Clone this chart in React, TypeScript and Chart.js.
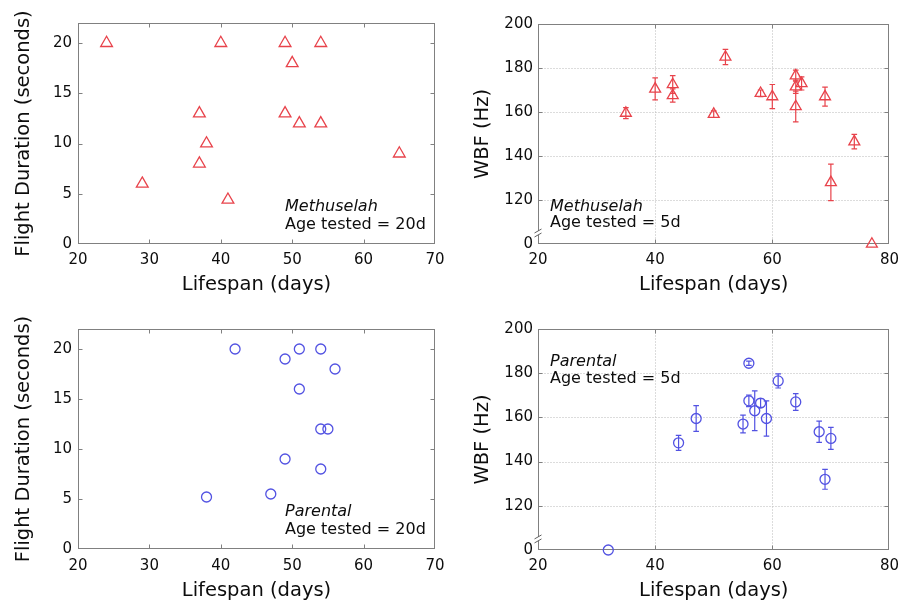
import React, { useEffect, useRef } from "react";
import { Chart, registerables } from "chart.js";

Chart.register(...registerables);

const FONT = "'DejaVu Sans', 'Liberation Sans', Arial, sans-serif";
const RED = "#e8434b";
const BLUE = "#5252e2";
const TEXT = "#0d0d0d";

// ---- Top-left: Methuselah, flight duration, age tested 20d ----
const methFlightLifespan = [24, 29, 37, 38, 37, 40, 41, 49, 50, 49, 51, 54, 54, 65];
const methFlightDuration = [20, 6, 13, 10, 8, 20, 4.4, 20, 18, 13, 12, 20, 12, 9];

// ---- Top-right: Methuselah, wing beat frequency, age tested 5d ----
const methWbfLifespan = [35, 40, 43, 43, 50, 52, 58, 60, 64, 64, 64, 65, 69, 70, 74, 77];
const methWbf = [159.5, 170.5, 172.5, 167.5, 159, 185, 168.5, 167, 176.5, 171.5, 162.5, 173, 167, 128, 146.5, 0];
const methWbfErr = [2.5, 5, 4, 3, 1.5, 3.5, 1.5, 5.5, 2.5, 3, 7, 3, 4.3, 8.3, 3.3, 0];

// ---- Bottom-left: Parental, flight duration, age tested 20d ----
const parFlightLifespan = [42, 49, 51, 54, 56, 51, 54, 55, 49, 54, 38, 47];
const parFlightDuration = [20, 19, 20, 20, 18, 16, 12, 12, 9, 8, 5.2, 5.5];

// ---- Bottom-right: Parental, wing beat frequency, age tested 5d ----
const parWbfLifespan = [32, 44, 47, 55, 56, 56, 57, 58, 59, 61, 64, 68, 70, 69];
const parWbf = [0, 148.5, 159.5, 157, 184.5, 167.5, 163, 166.5, 159.5, 176.5, 167, 153.5, 150.5, 132];
const parWbfErr = [0, 3.4, 5.8, 4, 1, 2.6, 9, 2, 8, 3.2, 3.8, 4.8, 5, 4.5];

// ---- Axis ticks ----
const xTicksFlight = [20, 30, 40, 50, 60, 70];
const yTicksFlight = [0, 5, 10, 15, 20];
const xTicksWbf = [20, 40, 60, 80];
const yTicksWbf = [0, 120, 140, 160, 180, 200];
const WBF_BREAK = 100; // axis position at which the value 0 is shown (below the axis break)

const toBroken = (v: number) => (v < WBF_BREAK ? WBF_BREAK : v);

// Frame (MATLAB-like box), inward ticks, dotted grid, axis break
const framePlugin = {
  id: "frame",
  beforeDatasetsDraw(chart: any, _args: any, opts: any) {
    const { ctx, chartArea: a, scales } = chart;
    const xs = scales.x;
    const ys = scales.y;
    const L = Math.round(a.left) + 0.5;
    const R = Math.round(a.right) - 0.5;
    const T = Math.round(a.top) + 0.5;
    const B = Math.round(a.bottom) - 0.5;
    ctx.save();
    if (opts.grid) {
      ctx.strokeStyle = "#b8b8b8";
      ctx.lineWidth = 1;
      ctx.setLineDash([1, 2]);
      xs.ticks.forEach((t: any) => {
        if (t.value > xs.min && t.value < xs.max) {
          const px = Math.round(xs.getPixelForValue(t.value)) + 0.5;
          ctx.beginPath();
          ctx.moveTo(px, T);
          ctx.lineTo(px, B);
          ctx.stroke();
        }
      });
      ys.ticks.forEach((t: any) => {
        if (t.value > ys.min && t.value < ys.max) {
          const py = Math.round(ys.getPixelForValue(t.value)) + 0.5;
          ctx.beginPath();
          ctx.moveTo(L, py);
          ctx.lineTo(R, py);
          ctx.stroke();
        }
      });
      ctx.setLineDash([]);
    }
    ctx.strokeStyle = "#808080";
    ctx.lineWidth = 1;
    const tl = 4;
    xs.ticks.forEach((t: any) => {
      if (t.value > xs.min && t.value < xs.max) {
        const px = Math.round(xs.getPixelForValue(t.value)) + 0.5;
        ctx.beginPath();
        ctx.moveTo(px, B);
        ctx.lineTo(px, B - tl);
        ctx.moveTo(px, T);
        ctx.lineTo(px, T + tl);
        ctx.stroke();
      }
    });
    ys.ticks.forEach((t: any) => {
      if (t.value > ys.min && t.value < ys.max) {
        const py = Math.round(ys.getPixelForValue(t.value)) + 0.5;
        ctx.beginPath();
        ctx.moveTo(L, py);
        ctx.lineTo(L + tl, py);
        ctx.moveTo(R, py);
        ctx.lineTo(R - tl, py);
        ctx.stroke();
      }
    });
    ctx.strokeRect(L, T, R - L, B - T);
    if (opts.breakAt != null) {
      const yb = ys.getPixelForValue(opts.breakAt);
      ctx.fillStyle = "#ffffff";
      ctx.fillRect(L - 1.5, yb - 2, 3, 4);
      ctx.strokeStyle = "#606060";
      ctx.beginPath();
      ctx.moveTo(L - 4, yb);
      ctx.lineTo(L + 3, yb - 4);
      ctx.moveTo(L - 4, yb + 4);
      ctx.lineTo(L + 3, yb);
      ctx.stroke();
    }
    ctx.restore();
  },
};

// Vertical error bars from dataset.errors
const errorBarPlugin = {
  id: "errorBars",
  afterDatasetsDraw(chart: any) {
    const { ctx, scales } = chart;
    ctx.save();
    chart.data.datasets.forEach((ds: any) => {
      if (!ds.errors) return;
      ctx.strokeStyle = ds.borderColor;
      ctx.lineWidth = 1.2;
      ds.data.forEach((pt: any, i: number) => {
        const e = ds.errors[i];
        if (!e) return;
        const px = scales.x.getPixelForValue(pt.x);
        const y1 = scales.y.getPixelForValue(pt.y + e);
        const y2 = scales.y.getPixelForValue(pt.y - e);
        const cap = 2.8;
        ctx.beginPath();
        ctx.moveTo(px, y1);
        ctx.lineTo(px, y2);
        ctx.moveTo(px - cap, y1);
        ctx.lineTo(px + cap, y1);
        ctx.moveTo(px - cap, y2);
        ctx.lineTo(px + cap, y2);
        ctx.stroke();
      });
    });
    ctx.restore();
  },
};

// Panel annotation (strain + age)
const notePlugin = {
  id: "note",
  afterDraw(chart: any, _args: any, opts: any) {
    if (!opts.lines) return;
    const { ctx, chartArea: a } = chart;
    ctx.save();
    ctx.fillStyle = TEXT;
    ctx.textAlign = "left";
    ctx.textBaseline = "middle";
    opts.lines.forEach((ln: any, i: number) => {
      ctx.font = `${ln.italic ? "italic " : ""}16px ${FONT}`;
      ctx.fillText(ln.text, a.left + opts.dx, a.top + opts.dy + i * opts.gap);
    });
    ctx.restore();
  },
};

interface PanelSpec {
  left: number;
  top: number;
  w: number;
  h: number;
  area: { left: number; top: number; right: number; bottom: number };
  xs: number[];
  ys: number[];
  errs?: number[];
  yMap?: (v: number) => number;
  color: string;
  style: string;
  radius: number;
  xMin: number;
  xMax: number;
  yMin: number;
  yMax: number;
  xTicks: number[];
  yTicks: number[];
  yLabel: (v: number) => string;
  yTitle: string;
  yTitlePad: number;
  xTitlePad: number;
  xTickPad: number;
  yTickPad: number;
  grid: boolean;
  breakAt?: number | null;
  note: { lines: { text: string; italic: boolean }[]; dx: number; dy: number; gap: number };
}

function Panel({ spec }: { spec: PanelSpec }) {
  const ref = useRef<HTMLCanvasElement | null>(null);
  useEffect(() => {
    if (!ref.current) return;
    const s = spec;
    const map = s.yMap || ((v: number) => v);
    const chart = new Chart(ref.current, {
      type: "scatter",
      data: {
        datasets: [
          {
            data: s.xs.map((x, i) => ({ x, y: map(s.ys[i]) })),
            pointStyle: s.style as any,
            pointRadius: s.radius,
            borderColor: s.color,
            backgroundColor: "rgba(0,0,0,0)",
            borderWidth: 1.3,
            clip: false,
            errors: s.errs,
          } as any,
        ],
      },
      options: {
        responsive: false,
        animation: false,
        devicePixelRatio: 1,
        layout: {
          padding: { left: 0, top: s.area.top, right: s.w - s.area.right, bottom: 0 },
        },
        plugins: {
          legend: { display: false },
          tooltip: { enabled: false },
          frame: { grid: s.grid, breakAt: s.breakAt ?? null },
          note: s.note,
        } as any,
        scales: {
          x: {
            type: "linear",
            min: s.xMin,
            max: s.xMax,
            afterBuildTicks: (sc: any) => {
              sc.ticks = s.xTicks.map((v) => ({ value: v }));
            },
            afterFit: (sc: any) => {
              sc.height = s.h - s.area.bottom;
            },
            grid: { display: false, drawTicks: false },
            border: { display: false },
            ticks: {
              autoSkip: false,
              maxRotation: 0,
              padding: s.xTickPad,
              color: TEXT,
              font: { family: FONT, size: 15 },
            },
            title: {
              display: true,
              text: "Lifespan (days)",
              color: TEXT,
              font: { family: FONT, size: 19.5 },
              padding: { top: 0, bottom: s.xTitlePad },
            },
          },
          y: {
            type: "linear",
            min: s.yMin,
            max: s.yMax,
            afterBuildTicks: (sc: any) => {
              sc.ticks = s.yTicks.map((v) => ({ value: map(v) }));
            },
            afterFit: (sc: any) => {
              sc.width = s.area.left;
            },
            grid: { display: false, drawTicks: false },
            border: { display: false },
            ticks: {
              autoSkip: false,
              padding: s.yTickPad,
              color: TEXT,
              font: { family: FONT, size: 15 },
              callback: (v: any) => s.yLabel(Number(v)),
            },
            title: {
              display: true,
              text: s.yTitle,
              color: TEXT,
              font: { family: FONT, size: 19.5 },
              padding: { top: s.yTitlePad, bottom: 0 },
            },
          },
        },
      },
      plugins: [framePlugin, errorBarPlugin, notePlugin],
    } as any);
    return () => chart.destroy();
  }, [spec]);
  return (
    <canvas
      ref={ref}
      width={spec.w}
      height={spec.h}
      style={{ position: "absolute", left: spec.left, top: spec.top, width: spec.w, height: spec.h }}
    />
  );
}

const flightLabel = (v: number) => String(v);
const wbfLabel = (v: number) => (v === WBF_BREAK ? "0" : String(v));

const panels: PanelSpec[] = [
  {
    left: 0, top: 0, w: 453, h: 300,
    area: { left: 78, top: 23, right: 435, bottom: 244 },
    xs: methFlightLifespan, ys: methFlightDuration,
    color: RED, style: "triangle", radius: 6.8,
    xMin: 20, xMax: 70, yMin: 0, yMax: 22,
    xTicks: xTicksFlight, yTicks: yTicksFlight, yLabel: flightLabel,
    yTitle: "Flight Duration (seconds)", yTitlePad: 12, xTitlePad: 3, xTickPad: 7, yTickPad: 6,
    grid: false,
    note: { lines: [{ text: "Methuselah", italic: true }, { text: "Age tested = 20d", italic: false }], dx: 207, dy: 184, gap: 18 },
  },
  {
    left: 453, top: 0, w: 453, h: 300,
    area: { left: 85, top: 24, right: 442, bottom: 244 },
    xs: methWbfLifespan, ys: methWbf, errs: methWbfErr, yMap: toBroken,
    color: RED, style: "triangle", radius: 6.3,
    xMin: 20, xMax: 80, yMin: WBF_BREAK, yMax: 200,
    xTicks: xTicksWbf, yTicks: yTicksWbf, yLabel: wbfLabel,
    yTitle: "WBF (Hz)", yTitlePad: 18, xTitlePad: 3, xTickPad: 7, yTickPad: 5,
    grid: true, breakAt: 105,
    note: { lines: [{ text: "Methuselah", italic: true }, { text: "Age tested = 5d", italic: false }], dx: 12, dy: 183, gap: 16 },
  },
  {
    left: 0, top: 300, w: 453, h: 307,
    area: { left: 78, top: 29, right: 435, bottom: 249 },
    xs: parFlightLifespan, ys: parFlightDuration,
    color: BLUE, style: "circle", radius: 5,
    xMin: 20, xMax: 70, yMin: 0, yMax: 22,
    xTicks: xTicksFlight, yTicks: yTicksFlight, yLabel: flightLabel,
    yTitle: "Flight Duration (seconds)", yTitlePad: 12, xTitlePad: 4, xTickPad: 8, yTickPad: 6,
    grid: false,
    note: { lines: [{ text: "Parental", italic: true }, { text: "Age tested = 20d", italic: false }], dx: 207, dy: 183, gap: 18 },
  },
  {
    left: 453, top: 300, w: 453, h: 307,
    area: { left: 85, top: 29, right: 442, bottom: 250 },
    xs: parWbfLifespan, ys: parWbf, errs: parWbfErr, yMap: toBroken,
    color: BLUE, style: "circle", radius: 5,
    xMin: 20, xMax: 80, yMin: WBF_BREAK, yMax: 200,
    xTicks: xTicksWbf, yTicks: yTicksWbf, yLabel: wbfLabel,
    yTitle: "WBF (Hz)", yTitlePad: 18, xTitlePad: 4, xTickPad: 7, yTickPad: 5,
    grid: true, breakAt: 105,
    note: { lines: [{ text: "Parental", italic: true }, { text: "Age tested = 5d", italic: false }], dx: 12, dy: 33, gap: 17 },
  },
];

export default function App() {
  return (
    <div style={{ position: "absolute", left: 0, top: 0, width: 906, height: 607, background: "#ffffff", overflow: "hidden" }}>
      {panels.map((p, i) => (
        <Panel key={i} spec={p} />
      ))}
    </div>
  );
}
